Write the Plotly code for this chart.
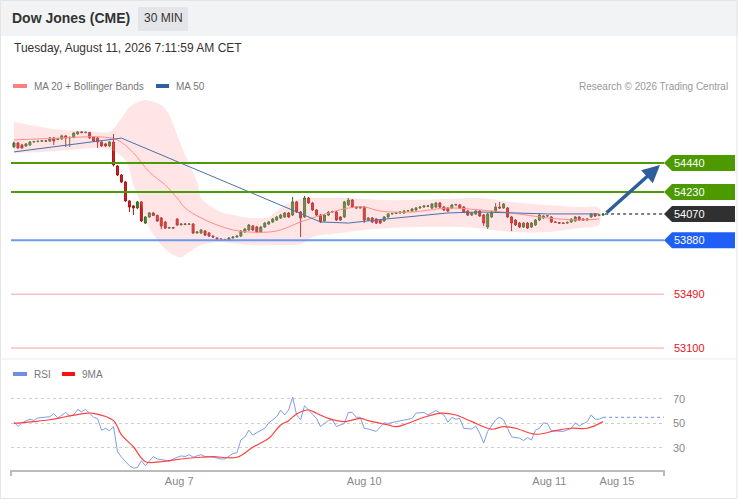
import plotly.graph_objects as go

# ---------------------------------------------------------------------------
# values (30 min bars, index 0 = first visible bar)
# ---------------------------------------------------------------------------
bar_open = [
    54556, 54585, 54570, 54563, 54570, 54592, 54595, 54597, 54600, 54598,
    54621, 54610, 54614, 54636, 54621, 54625, 54650, 54665, 54660, 54660,
    54628, 54621, 54592, 54578, 54563, 54592, 54418, 54353, 54302, 54165,
    54129, 54114, 54158, 54005, 54049, 54078, 54060, 54042, 54013, 53969,
    53972, 54034, 53991, 53998, 53996, 53998, 53933, 53933, 53947, 53933,
    53911, 53897, 53889, 53887, 53882, 53897, 53904, 53911, 53940, 53955,
    53984, 53976, 53940, 53976, 53998, 54013, 54027, 54042, 54049, 54078,
    54063, 54158, 54085, 54049, 54186, 54150, 54100, 54063, 54020, 54063,
    54085, 54085, 54049, 54049, 54136, 54172, 54121, 54114, 54121, 54027,
    54042, 54034, 54027, 54020, 54049, 54071, 54074, 54078, 54078, 54092,
    54092, 54100, 54114, 54121, 54129, 54114, 54121, 54150, 54121, 54114,
    54114, 54136, 54136, 54121, 54092, 54063, 54071, 54092, 54063, 53976,
    54049, 54085, 54121, 54114, 54114, 54049, 54027, 54005, 53976, 54005,
    53976, 53991, 54027, 54042, 54056, 54049, 54013, 54008, 54005, 54005,
    54013, 54020, 54049, 54034, 54027, 54049, 54071, 54060, 54063,
]
bar_high = [
    54595, 54592, 54578, 54585, 54599, 54600, 54603, 54607, 54605, 54628,
    54627, 54620, 54645, 54640, 54632, 54662, 54672, 54670, 54668, 54665,
    54635, 54628, 54597, 54585, 54600, 54650, 54425, 54360, 54310, 54172,
    54136, 54165, 54165, 54056, 54085, 54085, 54066, 54048, 54020, 53978,
    53976, 54040, 54005, 54003, 54005, 54005, 53947, 53962, 53955, 53940,
    53915, 53900, 53895, 53890, 53904, 53910, 53916, 53955, 53969, 53998,
    53991, 53984, 53984, 54013, 54020, 54042, 54056, 54071, 54085, 54085,
    54194, 54165, 54092, 54201, 54194, 54158, 54107, 54071, 54071, 54092,
    54095, 54092, 54056, 54165, 54186, 54179, 54125, 54128, 54128, 54048,
    54049, 54040, 54034, 54056, 54078, 54080, 54085, 54090, 54100, 54100,
    54114, 54121, 54126, 54134, 54134, 54150, 54158, 54158, 54128, 54121,
    54143, 54145, 54143, 54128, 54100, 54085, 54100, 54100, 54071, 54078,
    54092, 54150, 54158, 54150, 54121, 54056, 54034, 54013, 54013, 54013,
    54013, 54034, 54071, 54063, 54063, 54056, 54018, 54012, 54010, 54016,
    54040, 54056, 54056, 54040, 54040, 54078, 54078, 54068, 54075,
]
bar_low = [
    54550, 54542, 54542, 54556, 54563, 54588, 54590, 54592, 54593, 54594,
    54570, 54605, 54608, 54556, 54556, 54618, 54645, 54655, 54655, 54615,
    54592, 54549, 54556, 54555, 54555, 54415, 54345, 54295, 54158, 54085,
    54063, 54107, 54013, 53998, 54042, 54055, 54013, 53960, 53962, 53962,
    53962, 53985, 53990, 53990, 53990, 53926, 53928, 53926, 53911, 53904,
    53898, 53884, 53880, 53876, 53876, 53892, 53899, 53904, 53933, 53947,
    53947, 53933, 53933, 53969, 53991, 54005, 54020, 54034, 54042, 54042,
    54056, 54078, 53904, 54042, 54143, 54092, 54056, 54005, 54013, 54056,
    54078, 54020, 54020, 54042, 54129, 54114, 54108, 54108, 54005, 54020,
    54005, 53998, 53998, 54013, 54042, 54066, 54070, 54072, 54071, 54087,
    54085, 54092, 54110, 54116, 54122, 54107, 54114, 54114, 54092, 54085,
    54107, 54130, 54107, 54078, 54056, 54056, 54063, 54049, 53984, 53962,
    54042, 54078, 54107, 54107, 54042, 53947, 53984, 53969, 53969, 53962,
    53969, 53984, 54020, 54034, 54050, 54005, 54005, 53998, 53998, 54000,
    54005, 54013, 54020, 54020, 54022, 54042, 54049, 54055, 54058,
]
bar_close = [
    54585, 54549, 54549, 54578, 54592, 54595, 54597, 54600, 54598, 54621,
    54599, 54614, 54636, 54621, 54625, 54657, 54665, 54660, 54662, 54621,
    54599, 54592, 54563, 54563, 54592, 54426, 54353, 54302, 54165, 54121,
    54114, 54158, 54020, 54049, 54078, 54060, 54020, 53984, 53969, 53972,
    53969, 53991, 53998, 53996, 53998, 53933, 53940, 53955, 53918, 53911,
    53904, 53889, 53887, 53882, 53897, 53904, 53911, 53947, 53962, 53991,
    53955, 53940, 53976, 54005, 54013, 54034, 54049, 54063, 54078, 54049,
    54158, 54085, 54042, 54186, 54150, 54100, 54063, 54013, 54063, 54085,
    54088, 54027, 54027, 54158, 54172, 54121, 54114, 54121, 54027, 54042,
    54013, 54005, 54005, 54049, 54071, 54074, 54078, 54085, 54092, 54095,
    54107, 54114, 54121, 54129, 54127, 54143, 54150, 54121, 54100, 54092,
    54136, 54139, 54114, 54085, 54063, 54078, 54092, 54056, 54005, 54071,
    54085, 54121, 54114, 54143, 54049, 54005, 53991, 53976, 54005, 53969,
    54005, 54027, 54063, 54056, 54058, 54013, 54010, 54005, 54003, 54010,
    54034, 54049, 54027, 54027, 54034, 54071, 54056, 54063, 54070,
]

# moving averages and Bollinger Bands (bar index, price)
ma20_x = [0, 7, 12, 17, 22, 26, 30, 34, 38, 41, 43, 47, 51, 55, 59, 64, 67,
          72, 75, 84, 88, 92, 100, 109, 117, 125, 134, 142, 147]
ma20 = [54607, 54615, 54621, 54628, 54628, 54607, 54513, 54375, 54281, 54187,
        54114, 54042, 53991, 53955, 53940, 53940, 53955, 54013, 54042, 54114,
        54121, 54092, 54085, 54114, 54100, 54078, 54042, 54027, 54034]
ma50_x = [0, 27, 77, 84, 92, 100, 109, 117, 125, 134, 147]
ma50 = [54520, 54620, 54013, 54005, 54030, 54055, 54078, 54085, 54078,
        54071, 54071]
bb_up_x = [0, 4, 12, 19, 24, 27, 29, 31, 33, 37, 39, 41, 43, 46, 47, 49, 52,
           55, 59, 64, 67, 71, 75, 84, 92, 100, 109, 117, 125, 134, 142, 147]
bb_up = [54737, 54715, 54679, 54672, 54665, 54766, 54845, 54880, 54896, 54860,
         54788, 54643, 54498, 54302, 54186, 54136, 54085, 54063, 54042, 54049,
         54114, 54172, 54186, 54186, 54172, 54172, 54179, 54186, 54158, 54136,
         54121, 54114]
bb_low_x = [0, 7, 14, 22, 25, 28, 30, 32, 34, 37, 40, 42, 44, 47, 51, 55, 59,
            67, 72, 75, 82, 88, 100, 113, 125, 134, 142, 147]
bb_low = [54512, 54520, 54534, 54549, 54527, 54462, 54281, 54136, 53969, 53846,
          53774, 53759, 53795, 53846, 53868, 53861, 53846, 53846, 53853, 53904,
          53933, 53955, 53976, 53976, 53940, 53940, 53969, 53991]

# RSI panel
rsi_x = [0, 1, 2, 4, 5, 6, 9, 10, 11, 13, 14, 15, 16, 17, 18, 19, 20, 21, 22,
         23, 24, 25, 26, 27, 29, 30, 31, 32, 33, 35, 36, 38, 39, 40, 42, 43,
         44, 45, 47, 48, 50, 52, 53, 55, 56, 57, 58, 59, 60, 61, 63, 64, 66,
         67, 68, 69, 70, 71, 72, 73, 74, 76, 77, 79, 80, 81, 83, 84, 85, 86,
         87, 88, 89, 91, 93, 94, 96, 98, 100, 101, 103, 104, 106, 108, 109,
         110, 111, 112, 113, 115, 116, 117, 118, 119, 121, 122, 123, 124, 125,
         127, 128, 129, 130, 131, 132, 133, 134, 135, 137, 138, 140, 141, 142,
         143, 144, 145, 146, 147, 148]
rsi = [51.5, 47.5, 50.5, 53.5, 52.5, 54.5, 55.5, 58, 54.5, 59, 56, 57, 61.5,
       59.5, 61.5, 58.5, 55, 54, 44.5, 46, 44, 47.5, 27, 22.5, 15.5, 13.5, 14,
       19.5, 15.5, 23, 21, 20, 19, 21, 23.5, 23, 24.5, 22.5, 24.5, 23, 22.5,
       21, 21, 25.5, 26, 36.5, 39, 44.5, 40.5, 42.5, 46, 50.5, 55.5, 61, 57,
       61, 71.5, 57, 53, 64.5, 61, 54, 47.5, 52.5, 53, 47.5, 50, 59, 59, 55,
       55, 46, 45.5, 43.5, 50.5, 50, 51.5, 53, 54, 58.5, 59, 57, 60.5, 57, 51,
       55, 53.5, 54, 46, 45.5, 48, 42, 34, 43.5, 53, 55, 53, 46, 39, 38, 36,
       38.5, 36.5, 44.5, 46, 50.5, 50, 44, 43.5, 43.5, 46, 50.5, 48, 50, 51.5,
       57, 53.5, 53.5, 55]
rsi_ma_x = [0, 5, 9, 13, 18, 20, 25, 27, 30, 33, 37, 42, 47, 50, 56, 60, 64,
            67, 69, 71, 74, 76, 79, 83, 87, 89, 94, 96, 99, 103, 107, 111, 115,
            120, 123, 126, 131, 136, 140, 144, 148]
rsi_ma = [50, 51.5, 53, 55.5, 58.3, 58.3, 52.3, 40.6, 31, 18.8, 18.8, 21, 22.4,
          22.9, 22.4, 30.6, 37.9, 48.8, 52.3, 57.8, 61, 58.3, 54.2, 51.5, 54.2,
          52.3, 48.8, 47.4, 50.2, 55.1, 58.3, 56.9, 51.5, 45.3, 47.4, 46.1,
          41.2, 44.1, 46.1, 46.1, 51.5]

# x axis labels (bar index of each date)
tick_pos = [41.5, 88, 134.5, 151.5]
tick_text = ["Aug 7", "Aug 10", "Aug 11", "Aug 15"]

# key levels
resistances = [54440, 54230]
last_price = 54070
supports = [53880]
lower_levels = [53490, 53100]
rsi_grid = [30, 50, 70]

# ---------------------------------------------------------------------------
# layout helpers (pixel -> paper)
# ---------------------------------------------------------------------------
W, H = 738, 500
PL, PR, PT, PB = 11, 664, 95, 470
PRICE_BOTTOM = 358
RSI_TOP = 385
FONT = "Liberation Sans, Arial, sans-serif"

x_range = [-0.75, 163.3]
y_range = [53028, 54932]
rsi_range = [12, 81.4]


def px(x):
    return (x - PL) / (PR - PL)


def py(y):
    return (PB - y) / (PB - PT)


price_per_px = (y_range[1] - y_range[0]) / (PRICE_BOTTOM - PT)
bars = list(range(len(bar_close)))

fig = go.Figure()

# bollinger band area
fig.add_trace(go.Scatter(
    x=bb_up_x + bb_low_x[::-1], y=bb_up + bb_low[::-1],
    fill="toself", fillcolor="rgba(255,160,160,0.28)",
    line=dict(width=0, shape="spline", smoothing=0.8),
    hoverinfo="skip", showlegend=False))
fig.add_trace(go.Scatter(x=ma20_x, y=ma20, mode="lines",
                         line=dict(color="#ff8c8c", width=1, shape="spline"),
                         showlegend=False))
fig.add_trace(go.Scatter(x=ma50_x, y=ma50, mode="lines",
                         line=dict(color="#4a70ad", width=1),
                         showlegend=False))

fig.add_trace(go.Candlestick(
    x=bars, open=bar_open, high=bar_high, low=bar_low, close=bar_close,
    increasing=dict(line=dict(color="#2d6a22", width=1), fillcolor="#3a8c2a"),
    decreasing=dict(line=dict(color="#a01818", width=1), fillcolor="#e51c1c"),
    whiskerwidth=0, showlegend=False))

# RSI
fig.add_trace(go.Scatter(x=rsi_x, y=rsi, mode="lines", yaxis="y2",
                         line=dict(color="#7f9deb", width=1), showlegend=False))
fig.add_trace(go.Scatter(x=rsi_ma_x, y=rsi_ma, mode="lines", yaxis="y2",
                         line=dict(color="#ff4040", width=1.2, shape="spline"),
                         showlegend=False))

shapes = []
annotations = []

# frame, header band, panel separator
shapes.append(dict(type="rect", xref="paper", yref="paper",
                   x0=px(0), x1=px(W), y0=py(0), y1=py(36),
                   fillcolor="#f1f3f5", line=dict(width=0), layer="below"))
shapes.append(dict(type="rect", xref="paper", yref="paper",
                   x0=px(138), x1=px(188), y0=py(7), y1=py(31),
                   fillcolor="#e3e5e8", line=dict(width=0), layer="below"))
shapes.append(dict(type="rect", xref="paper", yref="paper",
                   x0=px(0.5), x1=px(737), y0=py(0.5), y1=py(498.5),
                   line=dict(color="#e4e4e4", width=1)))
shapes.append(dict(type="line", xref="paper", yref="paper",
                   x0=px(0), x1=px(737), y0=py(359), y1=py(359),
                   line=dict(color="#ededed", width=1)))
# bracket ends of the bottom axis
for xe in (PL, PR):
    shapes.append(dict(type="line", xref="paper", yref="paper",
                       x0=px(xe), x1=px(xe), y0=py(PB), y1=py(PB + 6),
                       line=dict(color="#bbbbbb", width=2)))

annotations += [
    dict(text="<b>Dow Jones (CME)</b>", x=px(10), y=py(18), font=dict(size=14, color="#333")),
    dict(text="30 MIN", x=px(142), y=py(18), font=dict(size=12, color="#333")),
    dict(text="Tuesday, August 11, 2026 7:11:59 AM CET", x=px(12), y=py(48),
         font=dict(size=12, color="#333")),
    dict(text="MA 20 + Bollinger Bands", x=px(32), y=py(86), font=dict(size=10, color="#777")),
    dict(text="MA 50", x=px(174), y=py(86), font=dict(size=10, color="#777")),
    dict(text="Research © 2026 Trading Central", x=px(730), y=py(86), xanchor="right",
         font=dict(size=10, color="#999")),
    dict(text="RSI", x=px(32), y=py(374), font=dict(size=10, color="#777")),
    dict(text="9MA", x=px(80), y=py(374), font=dict(size=10, color="#777")),
]
for a in annotations:
    a.update(xref="paper", yref="paper", showarrow=False, yanchor="middle")
    a.setdefault("xanchor", "left")

# legend swatches
for x0, x1, yy, col in [(13, 27, 86, "#ff8080"), (156, 169, 86, "#2f5f9f"),
                        (13, 27, 374, "#6f8fe6"), (62, 75, 374, "#ff1010")]:
    shapes.append(dict(type="rect", xref="paper", yref="paper",
                       x0=px(x0), x1=px(x1), y0=py(yy - 2), y1=py(yy + 2),
                       fillcolor=col, line=dict(width=0)))


def level_tag(level, color):
    h = 8 * price_per_px
    shapes.append(dict(
        type="path", xref="paper", yref="y", fillcolor=color, line=dict(width=0),
        path=(f"M {px(664)},{level} L {px(672)},{level + h} L {px(735)},{level + h} "
              f"L {px(735)},{level - h} L {px(672)},{level - h} Z")))
    annotations.append(dict(xref="paper", yref="y", x=px(672), y=level, text=str(level),
                            showarrow=False, xanchor="left", yanchor="middle",
                            font=dict(color="white", size=11)))


for lv in resistances:
    shapes.append(dict(type="line", xref="paper", yref="y", x0=0, x1=1, y0=lv, y1=lv,
                       line=dict(color="#4e9a06", width=2)))
    level_tag(lv, "#4c9a00")
for lv in supports:
    shapes.append(dict(type="line", xref="paper", yref="y", x0=0, x1=1, y0=lv, y1=lv,
                       line=dict(color="#6a9bef", width=2)))
    level_tag(lv, "#1f5ff5")
for lv in lower_levels:
    shapes.append(dict(type="line", xref="paper", yref="y", x0=0, x1=1, y0=lv, y1=lv,
                       line=dict(color="#f5a0a0", width=1)))
    annotations.append(dict(xref="paper", yref="y", x=px(672), y=lv, text=str(lv),
                            showarrow=False, xanchor="left", yanchor="middle",
                            font=dict(color="#e8141c", size=11)))

# last price: dotted line to the tag
shapes.append(dict(type="line", xref="x", yref="y", x0=bars[-1] + 0.5, x1=x_range[1],
                   y0=last_price, y1=last_price,
                   line=dict(color="#555", width=1.5, dash="dot")))
level_tag(last_price, "#303030")

# RSI projection
shapes.append(dict(type="line", xref="x", yref="y2", x0=rsi_x[-1], x1=x_range[1],
                   y0=rsi[-1], y1=rsi[-1],
                   line=dict(color="#8aa6ee", width=1.2, dash="dot")))

# target arrow
annotations.append(dict(xref="x", yref="y", axref="x", ayref="y",
                        x=x_range[1] - 1, y=resistances[0] - 15,
                        ax=bars[-1] + 0.5, ay=last_price,
                        text="", showarrow=True, arrowhead=2, arrowsize=1,
                        arrowwidth=3.5, arrowcolor="#2e5e9c"))

fig.update_layout(
    width=W, height=H,
    margin=dict(l=PL, r=W - PR, t=PT, b=H - PB),
    paper_bgcolor="white", plot_bgcolor="white",
    font=dict(family=FONT, color="#333"),
    showlegend=False,
    hovermode=False,
    xaxis=dict(range=x_range, anchor="y2", tickvals=tick_pos, ticktext=tick_text,
               showgrid=False, zeroline=False, showline=True, linecolor="#bbbbbb",
               linewidth=2, ticks="", tickfont=dict(size=11, color="#888"),
               rangeslider=dict(visible=False)),
    yaxis=dict(domain=[py(PRICE_BOTTOM), 1], range=y_range, anchor="x",
               showgrid=False, zeroline=False, showticklabels=False),
    yaxis2=dict(domain=[0, py(RSI_TOP)], range=rsi_range, anchor="x", side="right",
                tickvals=rsi_grid, showgrid=True, gridcolor="#cfcfcf", griddash="dot",
                zeroline=False, ticks="", ticklabelstandoff=8,
                tickfont=dict(size=11, color="#888")),
    shapes=shapes,
    annotations=annotations,
)

# page has a default 8px body margin; drop it so the chart sits at the corner
fig.write_html("out.html", config={"displayModeBar": False},
               post_script="document.body.style.margin='0';")
